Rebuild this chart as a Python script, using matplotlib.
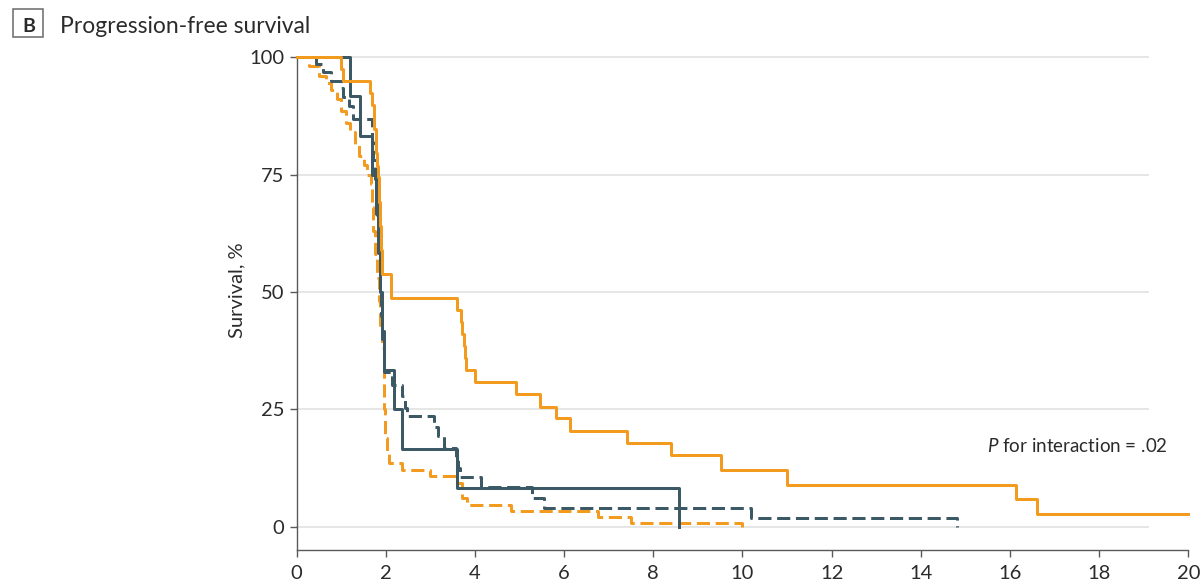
import matplotlib
matplotlib.use("Agg")
import matplotlib.pyplot as plt
from matplotlib.patches import Rectangle

plt.rcParams['font.family'] = ['Lato', 'DejaVu Sans']
plt.rcParams['mathtext.fontset'] = 'custom'
plt.rcParams['mathtext.it'] = 'Lato:italic'
plt.rcParams['mathtext.rm'] = 'Lato'

ORANGE = '#F29B1E'
SLATE = '#3B5865'
TEXT = '#2b2b2b'

# Kaplan-Meier steps: months, % progression-free
orange_solid_t = [0, 0.99, 1.04, 1.64, 1.70, 1.74, 1.77, 1.79, 1.81, 1.83, 1.84, 1.85,
                  1.87, 1.88, 1.89, 1.90, 1.91, 1.92, 2.11, 3.60, 3.68, 3.72, 3.75,
                  3.77, 3.79, 4.01, 4.93, 5.46, 5.81, 6.14, 7.40, 8.39, 9.52, 11.0,
                  16.14, 16.6, 20.0]
orange_solid_s = [100, 97.4, 94.9, 92.3, 89.7, 84.6, 82.1, 79.5, 76.9, 74.4, 71.8, 69.2,
                  66.7, 64.1, 61.5, 59.0, 56.4, 53.8, 48.7, 46.2, 43.6, 41.0, 38.5,
                  35.9, 33.3, 30.8, 28.2, 25.6, 23.1, 20.5, 17.9, 15.4, 12.2, 9.0,
                  5.9, 2.8, 2.8]

orange_dash_t = [0, 0.28, 0.5, 0.65, 0.78, 0.9, 1.0, 1.1, 1.2, 1.3, 1.4, 1.5, 1.58,
                 1.66, 1.69, 1.72, 1.76, 1.80, 1.84, 1.88, 1.92, 1.95, 1.97, 1.99,
                 2.02, 2.07, 2.37, 3.0, 3.6, 3.7, 3.83, 4.8, 6.77, 7.49, 10.0]
orange_dash_s = [100, 98, 96, 94.5, 93, 91, 88.5, 86, 84, 81.5, 79, 77, 75,
                 73, 68, 63, 58, 53, 48, 43, 38, 32, 25, 19,
                 15.5, 13.6, 12.2, 10.9, 9.3, 6.1, 4.7, 3.3, 2.2, 0.8, 0]

slate_solid_t = [0, 1.2, 1.43, 1.70, 1.77, 1.82, 1.86, 1.91, 1.97, 2.18, 2.37, 3.6, 8.57]
slate_solid_s = [100, 91.7, 83.3, 75, 66.7, 58.3, 50, 41.7, 33.3, 25, 16.7, 8.3, 0]

slate_dash_t = [0, 0.43, 0.6, 0.76, 1.0, 1.03, 1.17, 1.26, 1.68, 1.72, 1.75, 1.78, 1.80,
                1.82, 1.84, 1.86, 1.88, 1.90, 1.92, 1.97, 2.15, 2.37, 2.42, 2.47,
                3.09, 3.18, 3.3, 3.58, 3.62, 3.66, 4.13, 5.28, 5.54, 10.2, 14.81]
slate_dash_s = [100, 98.5, 96.8, 95, 93.5, 91.5, 89.5, 86.8, 82, 78, 74, 70, 66,
                62, 58, 54, 50, 45, 40, 33, 30.3, 27.8, 25.3, 23.7,
                21.2, 19.3, 16.8, 14.3, 12.5, 10.7, 8.6, 6.1, 4.0, 1.9, 0]

x_ticks = list(range(0, 21, 2))
y_ticks = [0, 25, 50, 75, 100]

fig = plt.figure(figsize=(12.01, 5.86), dpi=100)
ax = fig.add_axes([0.247, 0.0614, 0.7424, 0.8413])

# light reference lines
for y in y_ticks:
    ax.plot([0, 19.1], [y, y], color='#e2e2e2', lw=1.2, zorder=0, clip_on=False)

lw = 2.15
dash = (0, (4.4, 1.9))
ax.step(orange_dash_t, orange_dash_s, where='post', color=ORANGE, lw=lw,
        linestyle=dash, clip_on=False, zorder=2)
ax.step(slate_dash_t, slate_dash_s, where='post', color=SLATE, lw=lw,
        linestyle=dash, clip_on=False, zorder=3)
ax.step(slate_solid_t, slate_solid_s, where='post', color=SLATE, lw=lw,
        clip_on=False, zorder=4)
ax.step(orange_solid_t, orange_solid_s, where='post', color=ORANGE, lw=lw,
        clip_on=False, zorder=5)

ax.set_xlim(0, 20)
ax.set_ylim(-4.9, 100)
ax.set_xticks(x_ticks)
ax.set_yticks(y_ticks)
for side in ('top', 'right'):
    ax.spines[side].set_visible(False)
for side in ('left', 'bottom'):
    ax.spines[side].set_color('#5a5a5a')
    ax.spines[side].set_linewidth(1.0)
ax.tick_params(axis='both', colors='#5a5a5a', labelcolor=TEXT, length=5, width=1.0,
               labelsize=14.5)
ax.tick_params(axis='x', pad=6)
ax.tick_params(axis='y', pad=4)

ax.set_ylabel('Survival, %', fontsize=14.5, color=TEXT)
ax.yaxis.set_label_coords(-0.058, 0.527)

ax.text(15.48, 16.0, r'$\mathit{P}$ for interaction = .02', fontsize=13.5,
        color=TEXT, va='baseline', ha='left')

# panel header
fig.patches.append(Rectangle((13 / 1201, 1 - 37 / 586), 30 / 1201, 28 / 586,
                             transform=fig.transFigure, fill=False,
                             ec='#6a6a6a', lw=1.1))
fig.text(29 / 1201, 1 - 32 / 586, 'B', fontsize=14, fontweight='bold',
         color=TEXT, ha='center', va='baseline')
fig.text(60 / 1201, 1 - 33 / 586, 'Progression-free survival', fontsize=16.5,
         color=TEXT, ha='left', va='baseline')

fig.savefig('out.png', dpi=100, facecolor='white')
